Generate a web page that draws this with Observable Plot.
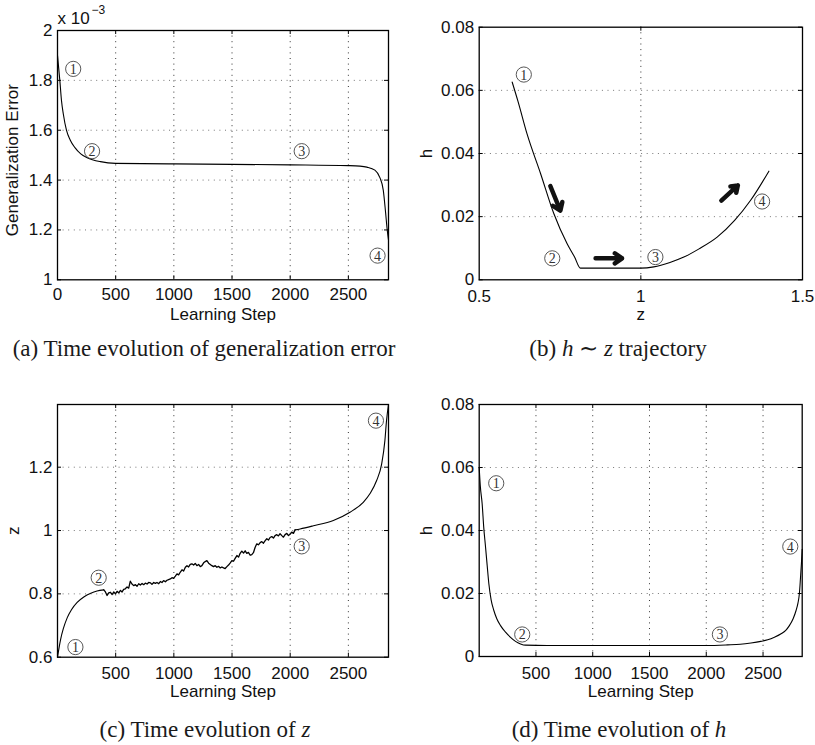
<!DOCTYPE html>
<html><head><meta charset="utf-8">
<script src="https://cdn.jsdelivr.net/npm/d3@7"></script>
<script src="https://cdn.jsdelivr.net/npm/@observablehq/plot@0.6"></script>
<style>
html,body{margin:0;padding:0;background:#fff;}
body{width:815px;height:745px;position:relative;overflow:hidden;}
.panel{position:absolute;}
.cap{position:absolute;font-family:"Liberation Serif","Times New Roman",serif;font-size:23px;line-height:23px;color:#1a1a1a;white-space:nowrap;transform:translateX(-50%);}
.cap i{font-style:italic;}
</style></head><body>
<div id="pa" class="panel" style="left:0;top:0"></div>
<div id="pb" class="panel" style="left:400px;top:0"></div>
<div id="pc" class="panel" style="left:0;top:330px"></div>
<div id="pd" class="panel" style="left:400px;top:330px"></div>
<div class="cap" style="left:204px;top:337px">(a) Time evolution of generalization error</div>
<div class="cap" style="left:618px;top:337px">(b) <i>h</i> ∼ <i>z</i> trajectory</div>
<div class="cap" style="left:205px;top:718px">(c) Time evolution of <i>z</i></div>
<div class="cap" style="left:619px;top:718px">(d) Time evolution of <i>h</i></div>
<script>
// ---------- data ----------
const stepTicks = [500, 1000, 1500, 2000, 2500];

// (a) generalization error (x 1e-3)
const stepA = [0, 10, 20, 34, 50, 77, 110, 150, 200, 255, 369, 500, 1000, 1500, 2000, 2500, 2600, 2659, 2728, 2771, 2800, 2820, 2834, 2845];
const errA  = [1.90, 1.85, 1.80, 1.72, 1.665, 1.60, 1.56, 1.53, 1.505, 1.49, 1.474, 1.467, 1.465, 1.463, 1.461, 1.458, 1.456, 1.452, 1.44, 1.41, 1.36, 1.27, 1.20, 1.16];
const tickA_x = [0, 500, 1000, 1500, 2000, 2500];
const tickA_y = [1, 1.2, 1.4, 1.6, 1.8, 2];
const markA_x = [135, 297, 2099, 2751];
const markA_y = [1.846, 1.516, 1.516, 1.097];

// (b) h ~ z trajectory
const zB = [0.602, 0.62, 0.648, 0.69, 0.731, 0.772, 0.795, 0.813, 0.85, 0.9, 0.95, 1.0, 1.04, 1.09, 1.133, 1.18, 1.236, 1.29, 1.339, 1.396];
const hB = [0.0626, 0.0565, 0.0462, 0.0336, 0.0209, 0.0114, 0.0072, 0.0037, 0.0037, 0.0037, 0.0037, 0.0037, 0.0041, 0.0055, 0.0072, 0.0098, 0.0135, 0.0188, 0.0251, 0.0344];
const tickB_x = [0.5, 1, 1.5];
const tickB_y = [0, 0.02, 0.04, 0.06, 0.08];
const markB_x = [0.638, 0.726, 1.045, 1.375];
const markB_y = [0.065, 0.0068, 0.0072, 0.0248];
const arrowB_z1 = [0.72, 0.86, 1.249];
const arrowB_h1 = [0.0297, 0.0068, 0.0251];
const arrowB_z2 = [0.751, 0.942, 1.30];
const arrowB_h2 = [0.0219, 0.0068, 0.0299];

// (c) z vs learning step: smooth start, noisy middle, smooth end
const stepC1 = [0, 26, 50, 84, 120, 169, 226, 286, 340, 398];
const zC1    = [0.60, 0.655, 0.69, 0.725, 0.75, 0.773, 0.79, 0.802, 0.809, 0.8126];
const stepC2 = [398, 412, 426, 440, 455, 470, 484, 498, 512, 527, 541, 555, 569, 583, 598, 612, 626, 640, 655, 670, 684, 698, 712, 727, 741, 755, 770, 784, 798, 812, 827, 841, 855, 870, 884, 898, 912, 927, 941, 955, 970, 984, 998, 1013, 1027, 1041, 1056, 1070, 1084, 1099, 1113, 1127, 1141, 1155, 1170, 1184, 1198, 1213, 1227, 1241, 1256, 1270, 1284, 1299, 1313, 1327, 1341, 1356, 1370, 1384, 1399, 1413, 1427, 1441, 1456, 1470, 1485, 1499, 1513, 1527, 1542, 1556, 1570, 1584, 1599, 1613, 1627, 1641, 1656, 1670, 1684, 1699, 1713, 1727, 1742, 1756, 1770, 1785, 1799, 1813, 1827, 1842, 1856, 1870, 1885, 1899, 1913, 1928, 1942, 1956, 1971, 1985, 1999, 2013, 2028, 2042];
const zC2    = [0.8126, 0.806, 0.795, 0.803, 0.805, 0.798, 0.806, 0.800, 0.808, 0.803, 0.811, 0.806, 0.814, 0.816, 0.822, 0.818, 0.840, 0.831, 0.826, 0.829, 0.824, 0.832, 0.828, 0.833, 0.829, 0.834, 0.831, 0.836, 0.835, 0.830, 0.836, 0.833, 0.836, 0.832, 0.839, 0.836, 0.842, 0.838, 0.843, 0.845, 0.847, 0.851, 0.849, 0.856, 0.863, 0.860, 0.869, 0.876, 0.872, 0.884, 0.889, 0.885, 0.893, 0.895, 0.891, 0.896, 0.889, 0.893, 0.886, 0.889, 0.898, 0.902, 0.905, 0.897, 0.893, 0.889, 0.886, 0.889, 0.884, 0.887, 0.882, 0.885, 0.882, 0.880, 0.886, 0.891, 0.898, 0.905, 0.903, 0.912, 0.921, 0.916, 0.928, 0.935, 0.929, 0.936, 0.928, 0.931, 0.922, 0.924, 0.930, 0.947, 0.958, 0.955, 0.962, 0.965, 0.960, 0.968, 0.974, 0.970, 0.978, 0.981, 0.976, 0.984, 0.987, 0.983, 0.990, 0.984, 0.979, 0.987, 0.991, 0.984, 0.988, 0.995, 0.991, 1.002];
const stepC3 = [2042, 2085, 2200, 2371, 2514, 2628, 2685, 2743, 2786, 2814, 2828, 2845];
const zC3    = [1.002, 1.005, 1.015, 1.032, 1.058, 1.089, 1.116, 1.158, 1.21, 1.284, 1.347, 1.398];
const tickC_y = [0.6, 0.8, 1, 1.2];
const markC_x = [154, 354, 2099, 2737];
const markC_y = [0.632, 0.851, 0.95, 1.347];

// (d) h vs learning step
const stepD = [0, 10, 26, 40, 56, 70, 85, 105, 129, 155, 188, 230, 276, 320, 364, 408, 600, 1000, 1500, 2000, 2188, 2300, 2394, 2480, 2541, 2600, 2659, 2700, 2732, 2765, 2791, 2808, 2820, 2830, 2838, 2845];
const hD    = [0.060, 0.054, 0.0485, 0.041, 0.0347, 0.029, 0.0231, 0.018, 0.0146, 0.012, 0.0098, 0.0078, 0.0061, 0.0048, 0.0040, 0.0036, 0.0035, 0.0035, 0.0035, 0.0035, 0.0037, 0.0039, 0.0043, 0.0048, 0.0053, 0.0061, 0.0072, 0.0083, 0.0098, 0.012, 0.0146, 0.017, 0.0199, 0.025, 0.0294, 0.034];
const tickD_y = [0, 0.02, 0.04, 0.06, 0.08];
const markD_x = [150, 379, 2120, 2740];
const markD_y = [0.055, 0.007, 0.007, 0.0349];

const circleLabels = ["1", "2", "3", "4"];

// ---------- helpers ----------
const zip = (xs, ys) => xs.map((x, i) => ({x, y: ys[i]}));

function panel(o) {
  const [mt, mr, mb, ml] = o.margins;
  const H = o.height - mt - mb, W = o.width - ml - mr, tk = 4;
  const marks = [
    Plot.ruleX(o.xGrid, {stroke: "#333", strokeDasharray: "1,4.6", strokeWidth: 1}),
    Plot.ruleY(o.yGrid, {stroke: "#777", strokeDasharray: "1,4.6", strokeWidth: 1}),
    Plot.ruleX(o.xTicks, {stroke: "#000", strokeDasharray: `${tk},${H - 2 * tk},${tk}`}),
    Plot.ruleY(o.yTicks, {stroke: "#000", strokeDasharray: `${tk},${W - 2 * tk},${tk}`}),
    ...o.marks,
    Plot.dot(zip(o.mx, o.my), {x: "x", y: "y", r: 7.6, stroke: "#444", strokeWidth: 0.9, fill: "none"}),
    Plot.text(zip(o.mx, o.my).map((d, i) => ({...d, t: circleLabels[i]})), {x: "x", y: "y", text: "t", fontFamily: '"Liberation Serif", serif', fontSize: 14, fill: "#333", lineAnchor: "middle", dy: 0.5}),
    Plot.frame({stroke: "#000", strokeWidth: 1.3}),
    Plot.axisX({ticks: o.xLabelTicks, tickSize: 0, tickPadding: o.xPad || 10, tickFormat: d => String(d), label: null}),
    Plot.axisY({ticks: o.yTicks, tickSize: 0, tickPadding: 5, tickFormat: d => String(d), label: null}),
    Plot.text([o.xLabel], {text: d => d, frameAnchor: "bottom", textAnchor: "middle", dy: o.xLabelDy, lineAnchor: "middle"}),
    Plot.text([o.yLabel], {text: d => d, frameAnchor: "left", textAnchor: "middle", dx: o.yLabelDx, dy: o.yLabelDy || 0, rotate: -90, lineAnchor: "middle"}),
    ...(o.extra || [])
  ];
  const svg = Plot.plot({
    width: o.width, height: o.height,
    marginTop: mt, marginRight: mr, marginBottom: mb, marginLeft: ml,
    style: {fontFamily: '"Liberation Sans", Arial, sans-serif', fontSize: "17px", color: "#111", background: "transparent", overflow: "visible"},
    x: {domain: o.xDomain}, y: {domain: o.yDomain},
    marks
  });
  document.getElementById(o.id).appendChild(svg);
}

// (a)
panel({
  id: "pa", width: 400, height: 330, margins: [30, 12, 50.7, 57],
  xDomain: [0, 2845], yDomain: [1, 2],
  xGrid: stepTicks, yGrid: [1.2, 1.4, 1.6, 1.8],
  xTicks: stepTicks, xLabelTicks: tickA_x, yTicks: tickA_y, xPad: 8,
  mx: markA_x, my: markA_y,
  marks: [Plot.line(zip(stepA, errA), {x: "x", y: "y", stroke: "#000", strokeWidth: 1.1, curve: "monotone-x"})],
  xLabel: "Learning Step", xLabelDy: 35,
  yLabel: "Generalization Error", yLabelDx: -44.5, yLabelDy: 5,
  extra: [
    Plot.text(["x 10"], {text: d => d, frameAnchor: "top-left", textAnchor: "start", dx: 0, dy: -12, lineAnchor: "middle"}),
    Plot.text(["−3"], {text: d => d, frameAnchor: "top-left", textAnchor: "start", dx: 34, dy: -20, lineAnchor: "middle", fontSize: 12})
  ]
});

// (b)
panel({
  id: "pb", width: 415, height: 330, margins: [26.7, 13, 50.7, 78.7],
  xDomain: [0.5, 1.5], yDomain: [0, 0.08],
  xGrid: [1], yGrid: [0.02, 0.04, 0.06],
  xTicks: [1], xLabelTicks: tickB_x, yTicks: tickB_y,
  mx: markB_x, my: markB_y,
  marks: [
    Plot.line(zip(zB, hB), {x: "x", y: "y", stroke: "#000", strokeWidth: 1.1, curve: "monotone-x"}),
    Plot.arrow(arrowB_z1.map((z, i) => ({x1: z, y1: arrowB_h1[i], x2: arrowB_z2[i], y2: arrowB_h2[i]})), {x1: "x1", y1: "y1", x2: "x2", y2: "y2", stroke: "#111", strokeWidth: 4.5, headLength: 9, headAngle: 70})
  ],
  xLabel: "z", xLabelDy: 35,
  yLabel: "h", yLabelDx: -52.4
});

// (c)
panel({
  id: "pc", width: 400, height: 370, margins: [74, 12, 43.3, 57],
  xDomain: [0, 2845], yDomain: [0.6, 1.398],
  xGrid: stepTicks, yGrid: [0.8, 1, 1.2],
  xTicks: stepTicks, xLabelTicks: stepTicks, yTicks: tickC_y,
  mx: markC_x, my: markC_y,
  marks: [
    Plot.line(zip(stepC1, zC1), {x: "x", y: "y", stroke: "#000", strokeWidth: 1.1, curve: "monotone-x"}),
    Plot.line(zip(stepC2, zC2), {x: "x", y: "y", stroke: "#000", strokeWidth: 1.3}),
    Plot.line(zip(stepC3, zC3), {x: "x", y: "y", stroke: "#000", strokeWidth: 1.1, curve: "monotone-x"})
  ],
  xLabel: "Learning Step", xLabelDy: 34,
  yLabel: "z", yLabelDx: -44.1
});

// (d)
panel({
  id: "pd", width: 415, height: 370, margins: [74, 13.3, 44, 78.7],
  xDomain: [0, 2845], yDomain: [0, 0.08],
  xGrid: stepTicks, yGrid: [0.02, 0.04, 0.06],
  xTicks: stepTicks, xLabelTicks: stepTicks, yTicks: tickD_y,
  mx: markD_x, my: markD_y,
  marks: [Plot.line(zip(stepD, hD), {x: "x", y: "y", stroke: "#000", strokeWidth: 1.1, curve: "monotone-x"})],
  xLabel: "Learning Step", xLabelDy: 35.3,
  yLabel: "h", yLabelDx: -52.4
});
</script>
</body></html>
